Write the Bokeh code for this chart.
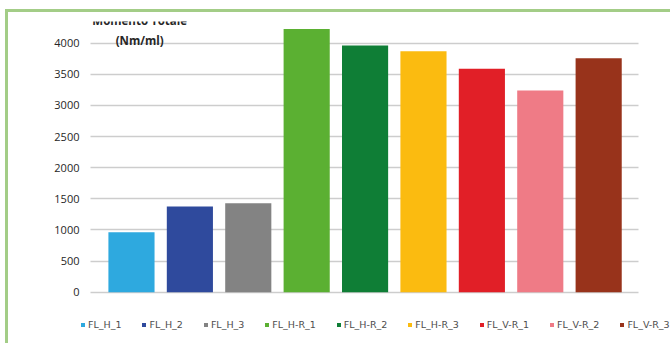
from bokeh.plotting import figure
from bokeh.models import ColumnDataSource, FixedTicker, Legend, LegendItem
from bokeh.embed import file_html
from bokeh.resources import INLINE
from bokeh.core.properties import value

# ---- data ----
categories = ["FL_H_1", "FL_H_2", "FL_H_3", "FL_H-R_1", "FL_H-R_2",
              "FL_H-R_3", "FL_V-R_1", "FL_V-R_2", "FL_V-R_3"]
moment = [965, 1378, 1430, 4230, 3962, 3872, 3588, 3240, 3758]
colors = ["#2ea9df", "#2f4a9d", "#838383", "#5bb032", "#0f7e36",
          "#fbbb10", "#e11f27", "#ef7b86", "#98331b"]
y_ticks = [0, 500, 1000, 1500, 2000, 2500, 3000, 3500, 4000]
title_lines = ["Momento Totale", "(Nm/ml)"]

xs = list(range(1, len(categories) + 1))
src = ColumnDataSource(dict(x=xs, top=moment, color=colors, name=categories))

FONT = "Open Sans"
GREEN = "#a3cd87"
GRID_X = (0.298, 9.68)   # horizontal extent of the gridlines (in x units)

p = figure(width=670, height=343, output_backend="svg", toolbar_location=None,
           x_range=(0.110, 10.23), y_range=(-824, 4349),
           x_axis_location=None,
           min_border_left=79, min_border_right=0,
           min_border_top=21, min_border_bottom=0)
# green frame of the original (left and top edges), painted behind a transparent border area
p.styles = {
    "background-color": "white",
    "background-image": f"linear-gradient({GREEN}, {GREEN}), linear-gradient({GREEN}, {GREEN})",
    "background-size": "3px 334px, 665px 3px",
    "background-position": "5px 9px, 5px 9px",
    "background-repeat": "no-repeat",
}
p.outline_line_color = None
p.background_fill_color = "white"
p.border_fill_color = None

# gridlines limited to the chart area
p.xgrid.visible = False
grid = p.ygrid[0]
if "cross_bounds" in grid.properties():
    grid.cross_bounds = GRID_X
    grid.grid_line_color = "#cdcdcd"
    grid.grid_line_width = 1.5
else:
    grid.visible = False
    p.segment(x0=GRID_X[0], x1=GRID_X[1], y0=y_ticks, y1=y_ticks,
              line_color="#cdcdcd", line_width=1.5)

r = p.vbar(x="x", top="top", bottom=0, width=0.79, source=src,
           fill_color="color", line_color=None)

p.yaxis.ticker = FixedTicker(ticks=y_ticks)
p.yaxis.axis_line_color = None
p.yaxis.major_tick_line_color = None
p.yaxis.minor_tick_line_color = None
p.yaxis.major_tick_out = 0
p.yaxis.major_label_standoff = 0
p.yaxis.major_label_text_font = FONT
p.yaxis.major_label_text_font_size = "11px"
p.yaxis.major_label_text_color = "#262626"

# axis title (top-left, partly clipped like the original)
p.text(x=[1.14, 1.14], y=[4370, 4045], text=title_lines,
       text_font=value(FONT), text_font_size="11.5px", text_font_style="bold",
       text_color="#262626", text_align="center", text_baseline="middle")

items = [LegendItem(label=c, renderers=[r], index=i) for i, c in enumerate(categories)]
legend = Legend(items=items, orientation="horizontal", location=(1, 13),
                glyph_width=5, glyph_height=5, label_standoff=3,
                label_width=0, label_height=10, spacing=20,
                padding=0, margin=0, border_line_color=None,
                background_fill_alpha=0,
                label_text_font="DejaVu Sans", label_text_font_size="9.5px",
                label_text_color="#4d4d4d")
p.add_layout(legend)

open("out.html", "w").write(file_html(p, INLINE))
